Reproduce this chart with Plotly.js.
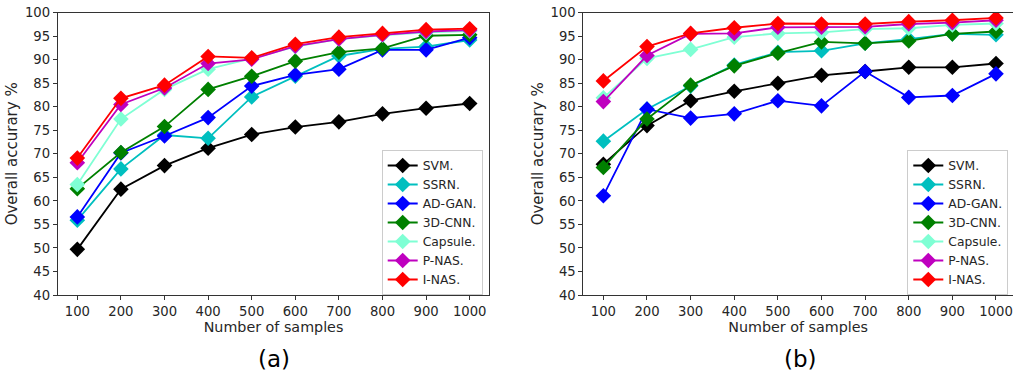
<!DOCTYPE html>
<html>
<head>
<meta charset="utf-8">
<script src="https://cdn.plot.ly/plotly-3.0.1.min.js"></script>
<style>html,body{margin:0;padding:0;background:#fff;overflow:hidden}#chart{width:1013px;height:377px}</style>
</head>
<body>
<div id="chart"></div>
<script>
const samples = [100, 200, 300, 400, 500, 600, 700, 800, 900, 1000];
const methods = ["SVM.", "SSRN.", "AD-GAN.", "3D-CNN.", "Capsule.", "P-NAS.", "I-NAS."];
const colors = ["#000000", "#00bfbf", "#0000ff", "#008000", "#7fffd4", "#bf00bf", "#ff0000"];

// Panel (a)
const a_svm     = [49.7, 62.5, 67.5, 71.2, 74.1, 75.7, 76.8, 78.5, 79.7, 80.7];
const a_ssrn    = [55.9, 66.8, 74.0, 73.3, 82.1, 86.5, 90.8, 92.3, 92.8, 94.2];
const a_adgan   = [56.6, 70.2, 73.8, 77.7, 84.4, 86.8, 88.0, 92.1, 92.1, 94.7];
const a_cnn3d   = [62.6, 70.3, 75.8, 83.7, 86.5, 89.7, 91.6, 92.4, 95.1, 95.3];
const a_capsule = [63.5, 77.4, 83.7, 88.0, 90.3, 92.8, 94.4, 95.2, 95.8, 96.1];
const a_pnas    = [68.1, 80.5, 84.0, 89.2, 90.1, 92.9, 94.4, 95.3, 96.0, 96.3];
const a_inas    = [69.1, 81.8, 84.6, 90.7, 90.4, 93.3, 94.8, 95.6, 96.4, 96.6];

// Panel (b)
const b_svm     = [67.8, 76.0, 81.3, 83.3, 85.0, 86.7, 87.5, 88.4, 88.4, 89.2];
const b_ssrn    = [72.7, 79.5, 84.4, 88.9, 91.6, 91.9, 93.5, 94.4, 95.5, 95.3];
const b_adgan   = [61.1, 79.5, 77.6, 78.5, 81.3, 80.2, 87.5, 82.0, 82.4, 87.0];
const b_cnn3d   = [67.1, 77.4, 84.6, 88.7, 91.4, 93.8, 93.5, 94.0, 95.5, 96.0];
const b_capsule = [81.9, 90.3, 92.2, 94.8, 95.6, 95.8, 96.5, 96.7, 97.4, 97.7];
const b_pnas    = [81.1, 90.9, 95.5, 95.6, 96.9, 96.9, 97.0, 97.6, 97.9, 98.4];
const b_inas    = [85.5, 92.8, 95.6, 96.8, 97.7, 97.6, 97.6, 98.1, 98.4, 98.9];

const yTicks = [40, 45, 50, 55, 60, 65, 70, 75, 80, 85, 90, 95, 100];
const xTicks = samples;
const panelLabels = ["(a)", "(b)"];
const yTitle = "Overall accurary %";
const xTitle = "Number of samples";

const seriesA = [a_svm, a_ssrn, a_adgan, a_cnn3d, a_capsule, a_pnas, a_inas];
const seriesB = [b_svm, b_ssrn, b_adgan, b_cnn3d, b_capsule, b_pnas, b_inas];

const FONT = "DejaVu Sans, sans-serif";
const TXT = "#262626";
const traces = [];
function addPanel(series, xa, ya, leg) {
  series.forEach((vals, i) => {
    traces.push({
      x: samples, y: vals, name: methods[i], type: "scatter", mode: "lines+markers",
      xaxis: xa, yaxis: ya, legend: leg,
      line: {color: colors[i], width: 1.8},
      marker: {symbol: "diamond", size: 12, color: colors[i]}
    });
  });
}
addPanel(seriesA, "x", "y", "legend");
addPanel(seriesB, "x2", "y2", "legend2");

function xax(domain, range, anchor) {
  return {
    domain: domain, range: range, anchor: anchor,
    tickmode: "array", tickvals: xTicks, ticktext: xTicks.map(String),
    ticks: "outside", ticklen: 4, tickcolor: "#333", tickwidth: 1,
    showline: true, linecolor: "#333", linewidth: 1, mirror: true,
    showgrid: false, zeroline: false,
    tickfont: {family: FONT, size: 13.2, color: TXT},
    title: {text: xTitle, font: {family: FONT, size: 14.3, color: TXT}, standoff: 4}
  };
}
function yax(range, anchor) {
  return {
    domain: [1 - 295 / 377, 1 - 12.7 / 377], range: range, anchor: anchor,
    tickmode: "array", tickvals: yTicks, ticktext: yTicks.map(String),
    ticks: "outside", ticklen: 4, tickcolor: "#333", tickwidth: 1,
    showline: true, linecolor: "#333", linewidth: 1, mirror: true,
    showgrid: false, zeroline: false,
    tickfont: {family: FONT, size: 13.2, color: TXT},
    title: {text: yTitle, font: {family: FONT, size: 15, color: TXT}, standoff: 3}
  };
}
function legendAt(xpx) {
  return {
    x: xpx / 1013, y: 1 - 150 / 377, xanchor: "left", yanchor: "top",
    bgcolor: "#ffffff", bordercolor: "#cccccc", borderwidth: 1,
    font: {family: FONT, size: 12.3, color: TXT}, tracegroupgap: 0
  };
}

const layout = {
  width: 1013, height: 377,
  margin: {l: 0, r: 0, t: 0, b: 0},
  paper_bgcolor: "#ffffff", plot_bgcolor: "#ffffff",
  showlegend: true,
  xaxis: xax([57.7 / 1013, 489.3 / 1013], [55, 1045], "y"),
  yaxis: yax([40, 100], "x"),
  xaxis2: xax([583.3 / 1013, 1], [54, 1039], "y2"),
  yaxis2: yax([40, 100], "x2"),
  legend: legendAt(381.7),
  legend2: legendAt(907.3),
  annotations: [
    {text: panelLabels[0], xref: "paper", yref: "paper", x: 273.5 / 1013, y: 1 - 359 / 377,
     xanchor: "center", yanchor: "middle", showarrow: false, font: {family: FONT, size: 23, color: "#000"}},
    {text: panelLabels[1], xref: "paper", yref: "paper", x: 800 / 1013, y: 1 - 359 / 377,
     xanchor: "center", yanchor: "middle", showarrow: false, font: {family: FONT, size: 23, color: "#000"}}
  ]
};

Plotly.newPlot("chart", traces, layout, {displayModeBar: false, staticPlot: true});
</script>
</body>
</html>
